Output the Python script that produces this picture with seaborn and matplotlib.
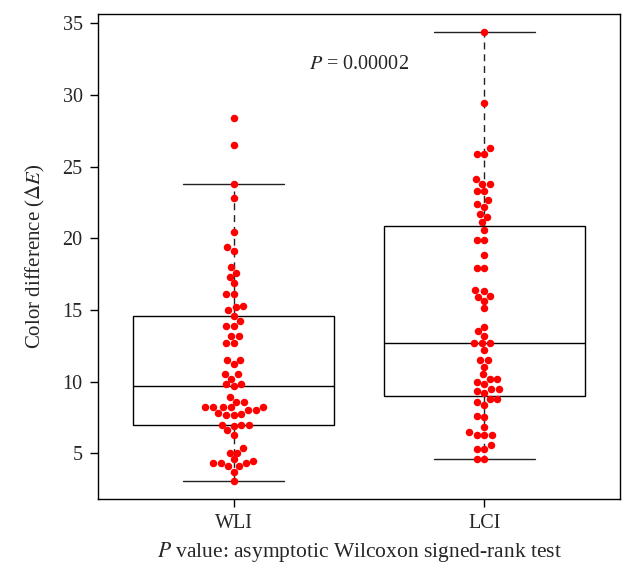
import pandas as pd
import numpy as np
import matplotlib
matplotlib.use("Agg")
import matplotlib.pyplot as plt
import seaborn as sns

# values (Color difference, delta E)
wli = [28.4, 26.5, 23.8, 22.8, 20.4, 19.4, 19.1, 18.0, 17.6, 17.3, 16.85, 16.1, 16.1,
       15.3, 15.2, 15.0, 14.6, 14.2, 13.9, 13.9, 13.2, 13.2, 12.7, 12.7,
       11.5, 11.5, 11.2, 10.5, 10.5, 10.2, 9.8, 9.8, 9.7,
       8.9, 8.6, 8.6, 8.2, 8.2, 8.2, 8.2, 8.2, 8.0, 8.0, 7.8, 7.75, 7.7, 7.7,
       7.0, 7.0, 6.95, 6.9, 6.6, 6.3,
       5.4, 5.05, 5.05, 4.6, 4.3, 4.3, 4.45, 4.3, 4.1, 4.1, 3.7, 3.1]
lci = [34.4, 29.4, 26.3, 25.9, 25.9, 24.1, 23.8, 23.8, 23.3, 23.3, 22.65, 22.4, 22.2, 21.7, 21.5,
       21.1, 20.6, 19.85, 19.85, 18.8, 17.9, 17.9, 16.4, 16.3, 16.0, 15.9, 15.65, 15.1,
       13.8, 13.5, 13.2, 12.7, 12.7, 12.7, 12.2, 11.5, 11.5, 11.05, 10.5, 10.2, 10.2,
       10.0, 9.8, 9.5, 9.5, 9.33, 9.2,
       8.8, 8.8, 8.57, 8.4, 7.6, 7.5, 6.83, 6.5, 6.3, 6.3, 6.3, 5.6, 5.3, 5.3, 4.6, 4.6]
groups = ["WLI", "LCI"]
p_text = "$P$ = 0.00002"

df = pd.DataFrame({
    "group": ["WLI"] * len(wli) + ["LCI"] * len(lci),
    "value": wli + lci,
})

sns.set_style("ticks")
plt.rcParams["font.family"] = ["Liberation Serif", "DejaVu Serif"]
plt.rcParams["mathtext.fontset"] = "stix"

fig = plt.figure(figsize=(6.43, 5.83), dpi=100)
ax = fig.add_axes([98 / 643, (583 - 498.5) / 583, (620 - 98) / 643, (498.5 - 13.8) / 583])

sns.boxplot(data=df, x="group", y="value", order=groups, ax=ax, width=0.8,
            color="white", linecolor="black", linewidth=1.0, showfliers=False,
            whis=1.5,
            boxprops=dict(facecolor="white", edgecolor="black"),
            whiskerprops=dict(linestyle=(0, (5, 3.5)), color="#222222"),
            capprops=dict(color="#222222"),
            medianprops=dict(color="black", linewidth=1.0))
sns.swarmplot(data=df, x="group", y="value", order=groups, ax=ax,
              color="#ff0000", size=5.4, linewidth=0, zorder=5)

ax.set_xlim(-0.54, 1.54)
ax.set_ylim(1.85, 35.65)
ax.set_yticks([5, 10, 15, 20, 25, 30, 35])
ax.tick_params(axis="both", labelsize=14.5, length=6, width=1, color="black", pad=5)
for s in ax.spines.values():
    s.set_visible(True)
    s.set_color("black")
    s.set_linewidth(1.0)

ax.set_ylabel("Color difference ($\\Delta E$)", fontsize=15, labelpad=11)
ax.set_xlabel("$P$ value: asymptotic Wilcoxon signed-rank test", fontsize=15.5, labelpad=5)
ax.text(0.5, 32.1, p_text, fontsize=14.5, ha="center", va="center")

fig.savefig("out.png", dpi=100)
